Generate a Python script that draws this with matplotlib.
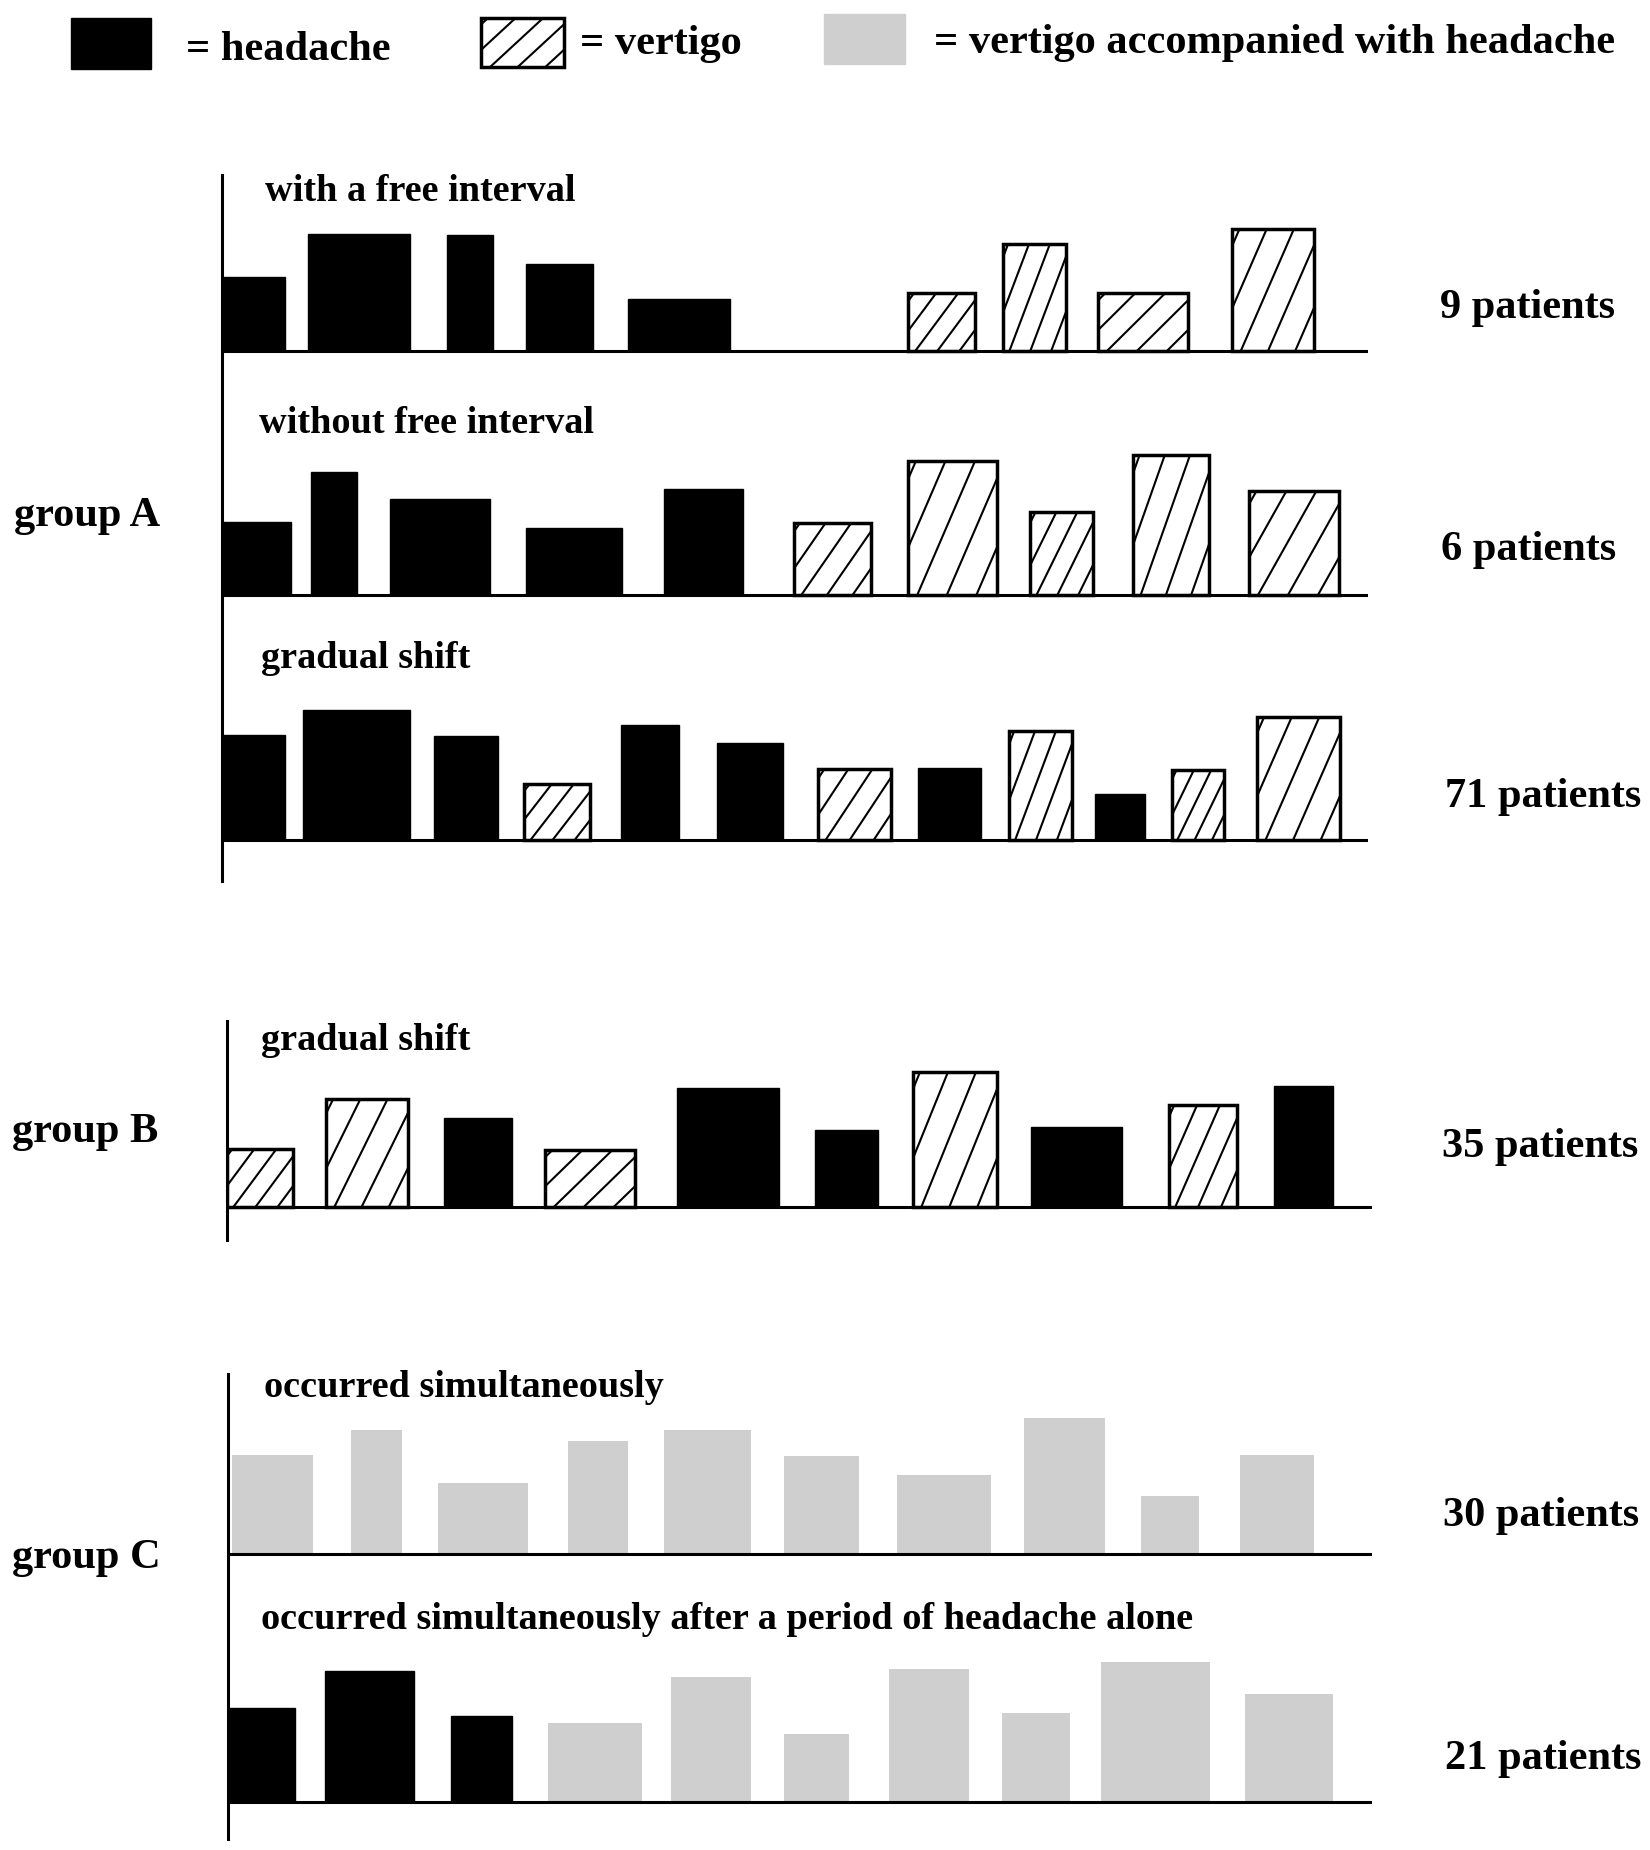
import matplotlib
matplotlib.use("Agg")
import matplotlib.pyplot as plt
from matplotlib.patches import Rectangle

# episodios: (inicio, duracao, intensidade, tipo)  K = cefaleia, H = vertigem, G = ambos
grupoA_com_intervalo = [
    (0.0, 5.3, 6.3, "K"), (7.2, 8.7, 9.9, "K"), (19.0, 3.9, 9.8, "K"),
    (25.7, 5.6, 7.4, "K"), (34.3, 8.6, 4.4, "K"),
    (58.0, 5.6, 4.9, "H"), (66.0, 5.3, 9.1, "H"), (74.0, 7.6, 4.9, "H"),
    (85.4, 6.9, 10.3, "H"),
]
grupoA_sem_intervalo = [
    (0.0, 5.8, 6.2, "K"), (7.5, 3.9, 10.4, "K"), (14.2, 8.4, 8.1, "K"),
    (25.7, 8.1, 5.7, "K"), (37.3, 6.7, 9.0, "K"),
    (48.3, 6.5, 6.1, "H"), (58.0, 7.5, 11.3, "H"), (68.3, 5.3, 7.0, "H"),
    (77.0, 6.4, 11.8, "H"), (86.8, 7.6, 8.8, "H"),
]
grupoA_gradual = [
    (0.0, 5.3, 8.9, "K"), (6.8, 9.1, 11.0, "K"), (17.9, 5.4, 8.8, "K"),
    (25.5, 5.6, 4.7, "H"), (33.7, 4.9, 9.7, "K"), (41.8, 5.6, 8.2, "K"),
    (50.4, 6.1, 6.0, "H"), (58.8, 5.3, 6.1, "K"), (66.5, 5.3, 9.2, "H"),
    (73.8, 4.2, 3.9, "K"), (80.3, 4.4, 5.9, "H"), (87.5, 7.0, 10.4, "H"),
]
grupoB_gradual = [
    (0.0, 5.6, 4.9, "H"), (8.4, 6.9, 9.1, "H"), (18.3, 5.8, 7.5, "K"),
    (26.9, 7.6, 4.8, "H"), (38.0, 8.7, 10.0, "K"), (49.7, 5.3, 6.5, "K"),
    (58.0, 7.1, 11.4, "H"), (68.0, 7.7, 6.7, "K"), (79.6, 5.8, 8.6, "H"),
    (88.5, 5.0, 10.2, "K"),
]
grupoC_simultaneo = [
    (0.3, 6.9, 8.4, "G"), (10.4, 4.3, 10.5, "G"), (17.7, 7.6, 6.0, "G"),
    (28.7, 5.1, 9.6, "G"), (36.8, 7.4, 10.5, "G"), (47.0, 6.3, 8.3, "G"),
    (56.5, 8.0, 6.7, "G"), (67.3, 6.8, 11.5, "G"), (77.2, 4.9, 4.9, "G"),
    (85.5, 6.3, 8.4, "G"),
]
grupoC_apos_cefaleia = [
    (0.0, 5.6, 7.9, "K"), (8.2, 7.5, 11.0, "K"), (18.8, 5.2, 7.2, "K"),
    (27.0, 8.0, 6.6, "G"), (37.4, 6.8, 10.5, "G"), (47.0, 5.5, 5.7, "G"),
    (55.9, 6.7, 11.2, "G"), (65.4, 5.8, 7.5, "G"), (73.8, 9.2, 11.8, "G"),
    (86.0, 7.4, 9.1, "G"),
]

legenda = ["= headache", "= vertigo", "= vertigo accompanied with headache"]
subtitulos = ["with a free interval", "without free interval", "gradual shift",
              "gradual shift", "occurred simultaneously",
              "occurred simultaneously after a period of headache alone"]
grupos = ["group A", "group B", "group C"]
pacientes = ["9 patients", "6 patients", "71 patients", "35 patients",
             "30 patients", "21 patients"]

CINZA = "#cfcfcf"
W, H = 1395.0, 1564.0  # coordenadas de referencia

plt.rcParams['font.family'] = ['Liberation Serif', 'DejaVu Serif']
plt.rcParams['font.weight'] = 'bold'

fig = plt.figure(figsize=(16.5, 18.5), dpi=100)

# eixo de fundo para textos e legenda
lay = fig.add_axes([0, 0, 1, 1])
lay.set_xlim(0, W)
lay.set_ylim(H, 0)
lay.axis("off")


def hachura(ax, x0, y_baixo, w, y_alto, lw=1.5):
    # retangulo branco com linhas diagonais recortadas
    r = Rectangle((x0, min(y_baixo, y_alto)), w, abs(y_alto - y_baixo),
                  facecolor="white", edgecolor="none", zorder=2)
    ax.add_patch(r)
    s = w / 3.0
    run = 0.65 * w
    for k in range(-3, 4):
        xb = x0 + k * s + 0.3 * s
        ln, = ax.plot([xb, xb + run], [y_baixo, y_alto], color="black", lw=lw,
                      zorder=3, solid_capstyle="butt")
        ln.set_clip_path(r)
    ax.add_patch(Rectangle((x0, min(y_baixo, y_alto)), w, abs(y_alto - y_baixo),
                           facecolor="none", edgecolor="black", lw=2.5, zorder=4))


def barras(ax, episodios, base):
    for x0, w, h, tipo in episodios:
        if tipo == "K":
            ax.bar(x0, h, width=w, bottom=base, align="edge", color="black",
                   edgecolor="black", lw=1, zorder=2)
        elif tipo == "G":
            ax.bar(x0, h, width=w, bottom=base, align="edge", color=CINZA,
                   edgecolor="none", zorder=2)
        else:
            hachura(ax, x0, base, w, base + h)


def grupo(x_ax, x_fim, y_topo, y_base, paineis):
    left = x_ax / W
    width = (x_fim - x_ax) / W
    bottom = 1 - y_base / H
    height = (y_base - y_topo) / H
    ax = fig.add_axes([left, bottom, width, height])
    ax.set_xlim(0, (x_fim - x_ax) / 10.0)
    ax.set_ylim(0, (y_base - y_topo) / 10.0)
    for s in ["top", "right", "bottom"]:
        ax.spines[s].set_visible(False)
    ax.spines["left"].set_linewidth(2.2)
    ax.set_xticks([])
    ax.set_yticks([])
    ax.patch.set_alpha(0)
    for episodios, y_linha in paineis:
        b = (y_base - y_linha) / 10.0
        barras(ax, episodios, b)
        ax.plot([0, (x_fim - x_ax) / 10.0], [b, b], color="black", lw=2.2,
                zorder=5, solid_capstyle="butt")
    return ax


grupo(188, 1157, 148, 745, [(grupoA_com_intervalo, 297),
                            (grupoA_sem_intervalo, 503),
                            (grupoA_gradual, 710)])
grupo(192, 1160, 863, 1048, [(grupoB_gradual, 1020)])
grupo(193, 1160, 1162, 1555, [(grupoC_simultaneo, 1314),
                              (grupoC_apos_cefaleia, 1523)])

# legenda
lay.add_patch(Rectangle((60, 15), 68, 43, color="black"))
hachura(lay, 407, 57, 70, 15)
lay.add_patch(Rectangle((697, 12), 68, 42, color=CINZA))
lay.text(157, 42, legenda[0], fontsize=30.5, va="center")
lay.text(490, 37, legenda[1], fontsize=30.5, va="center")
lay.text(790, 36, legenda[2], fontsize=30.5, va="center")

# subtitulos
for txt, (x, y) in zip(subtitulos, [(224, 162), (219, 358), (221, 557),
                                    (221, 880), (223, 1173), (221, 1369)]):
    lay.text(x, y, txt, fontsize=27.5, va="center")

for txt, (x, y) in zip(grupos, [(12, 436), (10, 957), (10, 1317)]):
    lay.text(x, y, txt, fontsize=30.5, va="center")

for txt, (x, y) in zip(pacientes, [(1365, 260), (1366, 465), (1388, 674),
                                   (1385, 970), (1386, 1282), (1388, 1487)]):
    lay.text(x, y, txt, fontsize=30.5, va="center", ha="right")

fig.savefig("out.png", dpi=100)
